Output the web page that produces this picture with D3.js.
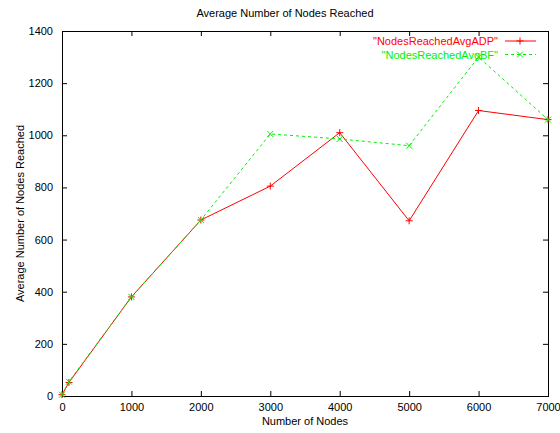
<!DOCTYPE html>
<html>
<head>
<meta charset="utf-8">
<script src="https://cdn.jsdelivr.net/npm/d3@7"></script>
<style>
  body { margin: 0; background: #fff; }
  svg text { font-family: "Liberation Sans", Arial, sans-serif; }
</style>
</head>
<body>
<svg id="chart"></svg>
<script>
// data
const nodeCounts = [0, 100, 1000, 2000, 3000, 4000, 5000, 6000, 7000]
const reachedADP = [5, 52, 380, 675, 805, 1010, 672, 1095, 1060]
const reachedBF  = [5, 55, 380, 675, 1005, 986, 960, 1300, 1060]
const xTicks = [0, 1000, 2000, 3000, 4000, 5000, 6000, 7000]
const yTicks = [0, 200, 400, 600, 800, 1000, 1200, 1400]

const config = {
    containerWidth: 560,
    containerHeight: 433,
    margin: {top: 31, right: 12, bottom: 37, left: 62}
}

const width = config.containerWidth - config.margin.left - config.margin.right
const height = config.containerHeight - config.margin.top - config.margin.bottom

const svg = d3.select('#chart')
    .attr('width', config.containerWidth)
    .attr('height', config.containerHeight)

const chart = svg.append('g')
    .attr('transform', `translate(${config.margin.left},${config.margin.top})`)

const xScale = d3.scaleLinear().domain([0, 7000]).range([0, width])
const yScale = d3.scaleLinear().domain([0, 1400]).range([height, 0])

// gnuplot style: ticks point inward, mirrored on top and right
const axisStyle = g => {
    g.select('.domain').remove()
    g.selectAll('line').attr('stroke', '#000')
    g.selectAll('text').attr('font-size', 11).attr('fill', '#000')
}

chart.append('g')
    .attr('transform', `translate(0,${height})`)
    .call(d3.axisBottom(xScale).tickValues(xTicks).tickSizeInner(-5).tickSizeOuter(0).tickPadding(7).tickFormat(d3.format('d')))
    .call(axisStyle)

chart.append('g')
    .call(d3.axisLeft(yScale).tickValues(yTicks).tickSizeInner(-5).tickSizeOuter(0).tickPadding(9).tickFormat(d3.format('d')))
    .call(axisStyle)

chart.append('g')
    .call(d3.axisTop(xScale).tickValues(xTicks).tickSizeInner(-5).tickSizeOuter(0).tickFormat(''))
    .call(axisStyle)

chart.append('g')
    .attr('transform', `translate(${width},0)`)
    .call(d3.axisRight(yScale).tickValues(yTicks).tickSizeInner(-5).tickSizeOuter(0).tickFormat(''))
    .call(axisStyle)

chart.append('rect')
    .attr('x', 0.5).attr('y', 0.5)
    .attr('width', width).attr('height', height)
    .attr('fill', 'none')
    .attr('stroke', '#000')

// titles
svg.append('text')
    .attr('x', 285).attr('y', 17)
    .attr('text-anchor', 'middle')
    .attr('font-size', 11)
    .text('Average Number of Nodes Reached')

svg.append('text')
    .attr('x', config.margin.left + width / 2).attr('y', 425)
    .attr('text-anchor', 'middle')
    .attr('font-size', 11)
    .text('Number of Nodes')

svg.append('text')
    .attr('transform', `translate(24,${config.margin.top + height / 2}) rotate(-90)`)
    .attr('text-anchor', 'middle')
    .attr('font-size', 11)
    .text('Average Number of Nodes Reached')

// series
const plusPath = 'M-3.5,0H3.5M0,-3.5V3.5'
const crossPath = 'M-3,-3L3,3M-3,3L3,-3'

const series = [
    {name: '"NodesReachedAvgADP"', values: reachedADP, color: '#ff0000', dash: null, marker: plusPath},
    {name: '"NodesReachedAvgBF"', values: reachedBF, color: '#00ee00', dash: '3,3', marker: crossPath}
]

const line = d3.line()
    .x(d => xScale(d[0]))
    .y(d => yScale(d[1]))

series.forEach((s, i) => {
    const pts = nodeCounts.map((n, j) => [n, s.values[j]])

    chart.append('path')
        .datum(pts)
        .attr('d', line)
        .attr('fill', 'none')
        .attr('stroke', s.color)
        .attr('stroke-width', 1)
        .attr('stroke-dasharray', s.dash)

    chart.selectAll(`.pt${i}`)
        .data(pts)
        .join('path')
            .attr('class', `pt${i}`)
            .attr('transform', d => `translate(${xScale(d[0])},${yScale(d[1])})`)
            .attr('d', s.marker)
            .attr('stroke', s.color)
            .attr('fill', 'none')

    // legend entry
    const ly = 41 + i * 13.5
    const key = svg.append('g')
    key.append('text')
        .attr('x', 498).attr('y', ly + 4)
        .attr('text-anchor', 'end')
        .attr('font-size', 11)
        .attr('fill', s.color)
        .text(s.name)
    key.append('line')
        .attr('x1', 505).attr('x2', 536)
        .attr('y1', ly).attr('y2', ly)
        .attr('stroke', s.color)
        .attr('stroke-dasharray', s.dash)
    key.append('path')
        .attr('transform', `translate(520,${ly})`)
        .attr('d', s.marker)
        .attr('stroke', s.color)
        .attr('fill', 'none')
})
</script>
</body>
</html>
